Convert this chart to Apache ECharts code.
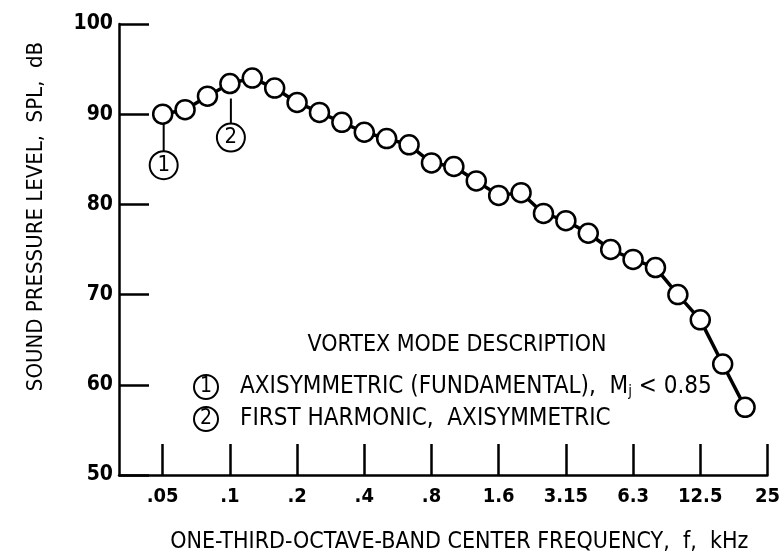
<!DOCTYPE html>
<html><head><meta charset="utf-8">
<script src="https://cdn.jsdelivr.net/npm/echarts@6/dist/echarts.min.js"></script>
<style>html,body{margin:0;padding:0;background:#fff}#c{width:783px;height:559px}</style>
</head><body><div id="c"></div>
<script>
// one-third-octave band centre frequencies, kHz
var freqs = [0.05,0.063,0.08,0.1,0.125,0.16,0.2,0.25,0.315,0.4,0.5,0.63,0.8,1.0,1.25,1.6,2.0,2.5,3.15,4.0,5.0,6.3,8.0,10,12.5,16,20];
// sound pressure level, dB
var spl = [90,90.5,92,93.4,94,92.9,91.3,90.2,89.1,88.0,87.3,86.6,84.6,84.2,82.6,81.0,81.3,79.0,78.2,76.8,75.0,73.9,73.0,70.0,67.2,62.3,57.5];
// x tick labels (octave steps from 0.05 kHz)
var xTickLabels = ['.05','.1','.2','.4','.8','1.6','3.15','6.3','12.5','25'];
// annotated vortex modes: band frequency and label
var modeFreqs = [0.05, 0.1];
var modeLabels = ['1','2'];
var legendTitle = 'VORTEX MODE DESCRIPTION';
var legendLines = ['AXISYMMETRIC (FUNDAMENTAL),  M{sub|j} < 0.85', 'FIRST HARMONIC,  AXISYMMETRIC'];

var FONT = "'Liberation Sans Narrow','DejaVu Sans Condensed',sans-serif";
function oct(f){ return Math.round(3*Math.log2(f/0.05))/3; }
var data = freqs.map(function(f,i){ return [oct(f), spl[i]]; });
var tickVals = xTickLabels.map(function(_,i){ return i; });

var chart = echarts.init(document.getElementById('c'));
chart.setOption({
  animation:false,
  backgroundColor:'#fff',
  grid:{left:119,right:8,top:24,bottom:72},
  xAxis:{
    type:'value', min:-0.65, max:9,
    axisLine:{onZero:false,lineStyle:{color:'#000',width:2.5}},
    axisTick:{inside:true,length:31,lineStyle:{color:'#000',width:2.5},customValues:tickVals},
    axisLabel:{customValues:tickVals,margin:12,color:'#000',fontFamily:FONT,fontSize:20,fontWeight:'bold',
      formatter:function(v){ return xTickLabels[Math.round(v)]; }},
    splitLine:{show:false},
    name:'ONE-THIRD-OCTAVE-BAND CENTER FREQUENCY,  f,  kHz',
    nameLocation:'middle', nameGap:56,
    nameTextStyle:{color:'#000',fontFamily:FONT,fontSize:23,padding:[0,0,0,32]}
  },
  yAxis:{
    type:'value', min:50, max:100, interval:10,
    axisLine:{onZero:false,lineStyle:{color:'#000',width:2.5}},
    axisTick:{inside:true,length:30,lineStyle:{color:'#000',width:2.5}},
    axisLabel:{margin:6,color:'#000',fontFamily:FONT,fontSize:21,fontWeight:'bold'},
    splitLine:{show:false},
    name:'SOUND PRESSURE LEVEL,  SPL,  dB',
    nameLocation:'middle', nameGap:72, nameRotate:90,
    nameTextStyle:{color:'#000',fontFamily:FONT,fontSize:22,padding:[0,0,0,66]}
  },
  series:[{
    type:'line', data:data,
    symbol:'circle', symbolSize:19,
    lineStyle:{color:'#000',width:3.5},
    itemStyle:{color:'#fff',borderColor:'#000',borderWidth:2.5},
    z:3
  }]
});

// annotations and legend placed through the chart's own coordinate conversion
var g = [];
modeFreqs.forEach(function(f,k){
  var i = freqs.indexOf(f);
  var p = chart.convertToPixel({gridIndex:0},[oct(f), spl[i]]);
  var lx = p[0] + 1;
  var y0 = p[1] + (k===0 ? 10 : 15);
  var y1 = y0 + (k===0 ? 27 : 25);
  g.push({type:'line',shape:{x1:lx,y1:y0,x2:lx,y2:y1},style:{stroke:'#000',lineWidth:2}});
  g.push({type:'circle',shape:{cx:lx,cy:y1+14,r:14},style:{fill:'#fff',stroke:'#000',lineWidth:2}});
  g.push({type:'text',x:lx,y:y1+14,style:{text:modeLabels[k],fill:'#000',font:'22px '+FONT,align:'center',verticalAlign:'middle'}});
});
g.push({type:'text',x:457,y:345,style:{text:legendTitle,fill:'#000',font:'23px '+FONT,align:'center',verticalAlign:'middle'}});
var ly = [387,419];
legendLines.forEach(function(t,k){
  g.push({type:'circle',shape:{cx:206,cy:ly[k],r:12},style:{fill:'#fff',stroke:'#000',lineWidth:2}});
  g.push({type:'text',x:206,y:ly[k],style:{text:modeLabels[k],fill:'#000',font:'21px '+FONT,align:'center',verticalAlign:'middle'}});
  g.push({type:'text',x:240,y:ly[k],style:{text:t,fill:'#000',font:'24px '+FONT,align:'left',verticalAlign:'middle',
    rich:{sub:{fontSize:15,fontFamily:FONT,fill:'#000',verticalAlign:'bottom',padding:[10,0,0,0]}}}});
});
chart.setOption({graphic:g});
</script></body></html>
